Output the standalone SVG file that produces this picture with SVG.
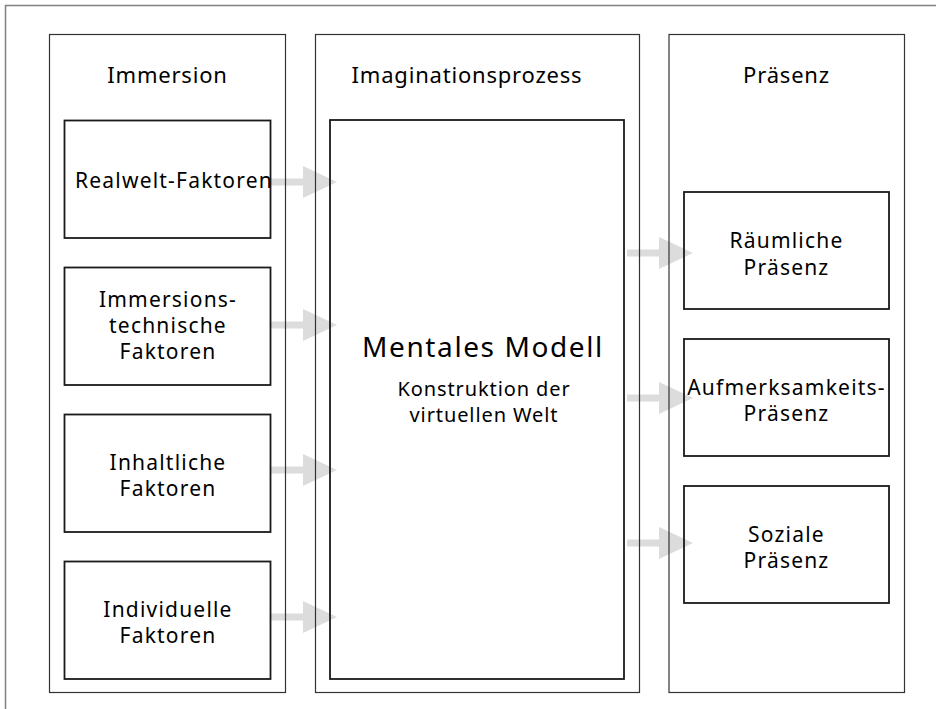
<svg xmlns="http://www.w3.org/2000/svg" width="936" height="709" viewBox="0 0 936 709">
<style>
.frame{fill:none;stroke:#808080;stroke-width:1.5}
.col{fill:none;stroke:#333;stroke-width:1.2}
.box{fill:none;stroke:#1a1a1a;stroke-width:1.8}
.arr{fill:#dcdcdc}
text{font-family:"Noto Sans","Open Sans",sans-serif;fill:#000;text-anchor:middle}
.h{font-size:22px;letter-spacing:0.8px}
.t{font-size:21px;letter-spacing:1.2px}
.s{font-size:20px;letter-spacing:0.9px}
.big{font-size:28px;letter-spacing:1.6px}
</style>
<defs>
<path id="arrow" d="M0,-3.5 H32 V-16 L66,0 L32,16 V3.5 H0 Z"/>
</defs>
<rect width="936" height="709" fill="#fff"/>
<rect class="frame" x="5.5" y="5.5" width="940" height="720"/>
<g id="connectors">
<use href="#arrow" class="arr" x="271" y="182"/>
<use href="#arrow" class="arr" x="271" y="325"/>
<use href="#arrow" class="arr" x="271" y="470"/>
<use href="#arrow" class="arr" x="271" y="617"/>
<use href="#arrow" class="arr" x="627" y="253"/>
<use href="#arrow" class="arr" x="627" y="398"/>
<use href="#arrow" class="arr" x="627" y="543"/>
</g>
<g id="col-immersion">
<rect class="col" x="49.5" y="34.5" width="236" height="658"/>
<text class="h" x="167.5" y="83">Immersion</text>
</g>
<g id="col-imagination">
<rect class="col" x="315.5" y="34.5" width="324" height="658"/>
<text class="h" x="467" y="83">Imaginationsprozess</text>
</g>
<g id="col-praesenz">
<rect class="col" x="669" y="34.5" width="235.5" height="658"/>
<text class="h" x="786.5" y="83">Präsenz</text>
</g>
<g id="realwelt">
<rect class="box" x="64.5" y="120.5" width="206" height="117.5"/>
<text class="t" x="174" y="188">Realwelt-Faktoren</text>
</g>
<g id="immersionstechnische">
<rect class="box" x="64.5" y="267.5" width="206" height="117.5"/>
<text class="t" x="168" y="307">Immersions-</text>
<text class="t" x="168" y="333">technische</text>
<text class="t" x="168" y="359">Faktoren</text>
</g>
<g id="inhaltliche">
<rect class="box" x="64.5" y="414.5" width="206" height="117.5"/>
<text class="t" x="168" y="470">Inhaltliche</text>
<text class="t" x="168" y="496">Faktoren</text>
</g>
<g id="individuelle">
<rect class="box" x="64.5" y="561.5" width="206" height="117.5"/>
<text class="t" x="168" y="617">Individuelle</text>
<text class="t" x="168" y="643">Faktoren</text>
</g>
<g id="mentales-modell">
<rect class="box" x="330" y="120" width="294" height="559"/>
<text class="big" x="483" y="357">Mentales Modell</text>
<text class="s" x="484" y="396">Konstruktion der</text>
<text class="s" x="484" y="422">virtuellen Welt</text>
</g>
<g id="raeumliche">
<rect class="box" x="684" y="192" width="205" height="117"/>
<text class="t" x="786.5" y="248">Räumliche</text>
<text class="t" x="786.5" y="275">Präsenz</text>
</g>
<g id="aufmerksamkeits">
<rect class="box" x="684" y="339" width="205" height="117"/>
<text class="t" x="786.5" y="395">Aufmerksamkeits-</text>
<text class="t" x="786.5" y="421">Präsenz</text>
</g>
<g id="soziale">
<rect class="box" x="684" y="486" width="205" height="117"/>
<text class="t" x="786.5" y="542">Soziale</text>
<text class="t" x="786.5" y="568">Präsenz</text>
</g>
</svg>
